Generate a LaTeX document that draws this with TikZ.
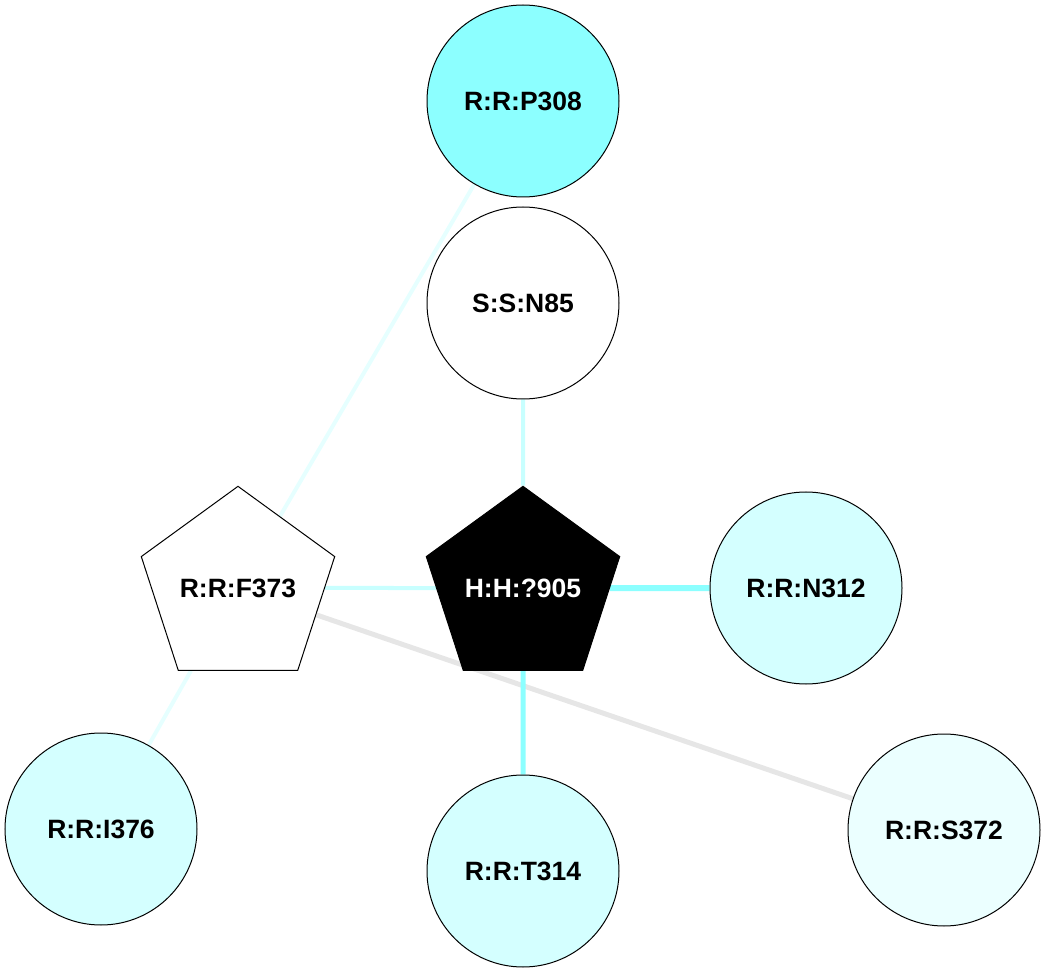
\documentclass[tikz,border=0pt]{standalone}
\usepackage{fontspec}
\setmainfont{Liberation Sans}
\usetikzlibrary{shapes.geometric,backgrounds}
\definecolor{cyanhi}{HTML}{8CFFFF}
\definecolor{cyanmid}{HTML}{D4FFFF}
\definecolor{cyanlo}{HTML}{EBFFFF}
\definecolor{edgelo}{HTML}{E6FFFF}
\definecolor{edgemid}{HTML}{C8FFFF}
\definecolor{edgegrey}{HTML}{E6E6E6}
\tikzset{
  res/.style={circle, draw=black, line width=1pt, minimum size=192pt, inner sep=0pt,
    font=\fontsize{26.5}{30}\selectfont\bfseries},
  lig/.style={regular polygon, regular polygon sides=5, draw=black, line width=1pt,
    minimum size=193pt, inner sep=0pt, font=\fontsize{26.5}{30}\selectfont\bfseries},
  link/.style={line width=#1}
}
\begin{document}
\begin{tikzpicture}[x=1pt,y=-1pt]

  \useasboundingbox (0,0) rectangle (1045,973);

  %% residues
  \node[res, fill=cyanhi]  (p308) at (523,101) {R:R:P308};
  \node[res, fill=white]   (n85)  at (523,303) {S:S:N85};
  \node[res, fill=cyanmid] (n312) at (806,588) {R:R:N312};
  \node[res, fill=cyanmid] (i376) at (101,829) {R:R:I376};
  \node[res, fill=cyanmid] (t314) at (523,871) {R:R:T314};
  \node[res, fill=cyanlo]  (s372) at (944,830) {R:R:S372};

  %% pentagons
  \node[lig, fill=white] (f373) at (238,588) {R:R:F373};
  \node[lig, fill=black, text=white] (h905) at (523,588) {H:H:?905};

  \begin{scope}[on background layer]
    \draw[link=4pt, edgelo]   (p308) -- (f373);
    \draw[link=4pt, edgelo]   (f373) -- (i376);
    \draw[link=5pt, edgegrey] (f373) -- (s372);
    \draw[link=4pt, edgemid]  (n85)  -- (h905);
    \draw[link=4pt, edgemid]  (f373) -- (h905);
    \draw[link=6pt, cyanhi]   (h905) -- (n312);
    \draw[link=5pt, cyanhi]   (h905) -- (t314);
  \end{scope}

\end{tikzpicture}
\end{document}
